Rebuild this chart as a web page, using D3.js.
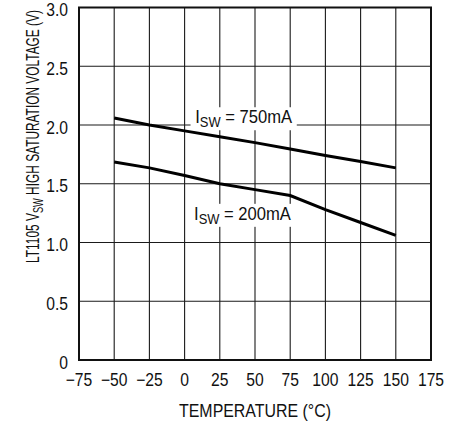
<!DOCTYPE html>
<html>
<head>
<meta charset="utf-8">
<script src="https://cdn.jsdelivr.net/npm/d3@7"></script>
<style>
  body { margin: 0; background: #fff; }
  text { font-family: "Liberation Sans", Arial, sans-serif; fill: #111; }
</style>
</head>
<body>
<div id="chart"></div>
<script>
// temperatures (deg C) the curves were read at
var temps = [-50, -25, 0, 25, 50, 75, 100, 125, 150];
var v750 = [2.06, 2.0, 1.95, 1.90, 1.85, 1.795, 1.74, 1.69, 1.635];
var v200 = [1.685, 1.635, 1.57, 1.50, 1.45, 1.40, 1.28, 1.17, 1.06];
var xTicks = [-75, -50, -25, 0, 25, 50, 75, 100, 125, 150, 175];
var yTicks = [0, 0.5, 1.0, 1.5, 2.0, 2.5, 3.0];

var w = 462, h = 421;
var margin = { top: 7.5, right: 31, bottom: 61, left: 79 };
var width = w - margin.left - margin.right;
var height = h - margin.top - margin.bottom;
var sx = 0.87; // squeeze text, the original uses a narrow face

var svg = d3.select("#chart").append("svg")
    .attr("width", w)
    .attr("height", h)
  .append("g")
    .attr("transform", "translate(" + margin.left + "," + margin.top + ")");

var x = d3.scaleLinear().domain([-75, 175]).range([0, width]);
var y = d3.scaleLinear().domain([0, 3]).range([height, 0]);

// squeeze a text group to a given width
function squeeze(g, t, tx, ty, target, rot) {
  var len = t.node().getComputedTextLength();
  var s = target / len;
  g.attr("transform", "translate(" + tx + "," + ty + ")" + (rot ? " rotate(" + rot + ")" : "") + " scale(" + s + ",1)");
}

// grid
svg.append("g").selectAll("line")
  .data(xTicks)
  .enter().append("line")
  .attr("x1", d => x(d)).attr("x2", d => x(d))
  .attr("y1", 0).attr("y2", height)
  .style("stroke", "#1a1a1a").style("stroke-width", 1.1);

svg.append("g").selectAll("line")
  .data(yTicks)
  .enter().append("line")
  .attr("x1", 0).attr("x2", width)
  .attr("y1", d => y(d)).attr("y2", d => y(d))
  .style("stroke", "#1a1a1a").style("stroke-width", 1.1);

// curve labels with white boxes (drawn before curves so lines stay on top)
function addLabel(tx, ty, txt) {
  var g = svg.append("g");
  var t = g.append("text").style("font-size", "18px");
  t.append("tspan").text("I");
  t.append("tspan").attr("dy", 4).style("font-size", "14px").text("SW");
  t.append("tspan").attr("dy", -4).text(" = " + txt);
  var bb = t.node().getBBox();
  g.insert("rect", "text")
    .attr("x", bb.x - 5).attr("y", bb.y)
    .attr("width", bb.width + 10).attr("height", bb.height)
    .style("fill", "#fff");
  squeeze(g, t, x(tx), y(ty), 97);
}
addLabel(7.5, 2.015, "750mA");
addLabel(6.7, 1.193, "200mA");

// curves
var line = d3.line()
  .x((d, i) => x(temps[i]))
  .y(d => y(d));

[v750, v200].forEach(s => {
  svg.append("path")
    .datum(s)
    .attr("d", line)
    .style("fill", "none")
    .style("stroke", "#000")
    .style("stroke-width", 3);
});

// frame
svg.append("rect")
  .attr("x", 0).attr("y", 0)
  .attr("width", width).attr("height", height)
  .style("fill", "none").style("stroke", "#111").style("stroke-width", 2);

// tick labels
svg.append("g").selectAll("text")
  .data(xTicks)
  .enter().append("text")
  .attr("transform", d => "translate(" + x(d) + "," + (height + 26) + ") scale(" + sx + ",1)")
  .attr("text-anchor", "middle")
  .style("font-size", "18px")
  .text(d => d < 0 ? "\u2212" + Math.abs(d) : d);

svg.append("g").selectAll("text")
  .data(yTicks)
  .enter().append("text")
  .attr("transform", d => "translate(-11," + (y(d) + 8.5) + ") scale(" + sx + ",1)")
  .attr("text-anchor", "end")
  .style("font-size", "18px")
  .text(d => d === 0 ? "0" : d.toFixed(1));

// axis titles
var xg = svg.append("g");
var xt = xg.append("text")
  .attr("text-anchor", "middle")
  .style("font-size", "18px")
  .text("TEMPERATURE (\u00B0C)");
squeeze(xg, xt, width / 2, height + 57, 152);

var yg = svg.append("g");
var yt = yg.append("text")
  .attr("text-anchor", "middle")
  .style("font-size", "18px");
yt.append("tspan").text("LT1105 V");
yt.append("tspan").attr("dy", 4).style("font-size", "14px").text("SW");
yt.append("tspan").attr("dy", -4).text(" HIGH SATURATION VOLTAGE (V)");
squeeze(yg, yt, 39 - margin.left, 136.5 - margin.top, 253, -90);
</script>
</body>
</html>
